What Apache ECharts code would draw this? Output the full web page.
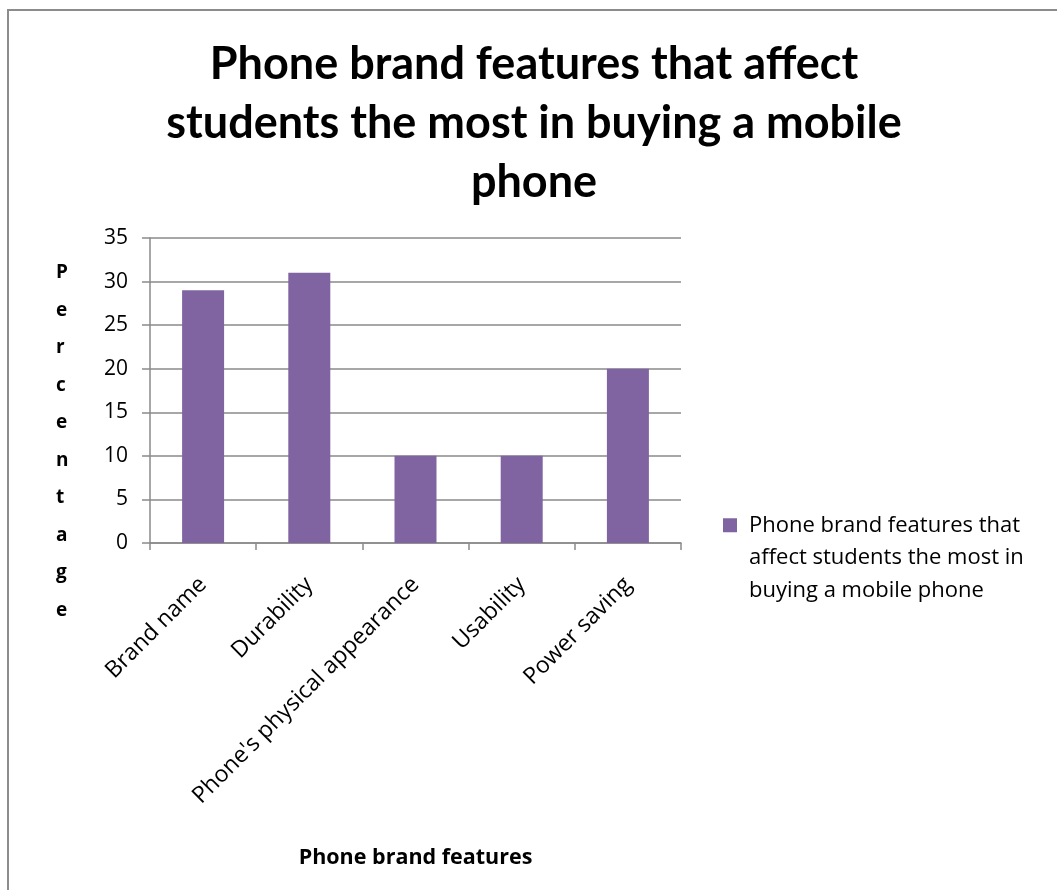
<!DOCTYPE html>
<html>
<head>
<meta charset="utf-8">
<title>Phone brand features</title>
<script src="https://cdn.jsdelivr.net/npm/echarts@6/dist/echarts.min.js"></script>
<style>
  html, body { margin: 0; padding: 0; background: #ffffff; }
  #chart { width: 1057px; height: 890px; }
</style>
</head>
<body>
<div id="chart"></div>
<script>
// Survey results: share of students naming each feature
const categories = ['Brand name', 'Durability', "Phone's physical appearance", 'Usability', 'Power saving'];
const percentages = [29, 31, 10, 10, 20];
const seriesName = 'Phone brand features that affect students the most in buying a mobile phone';
const legendLines = ['Phone brand features that', 'affect students the most in', 'buying a mobile phone'];
const titleText = 'Phone brand features that affect\nstudents the most in buying a mobile\nphone';
const yAxisTitle = 'Percentage';
const xAxisTitle = 'Phone brand features';
const yTicks = { min: 0, max: 35, interval: 5 };

const TITLE_FONT = 'Lato, "Open Sans", sans-serif';
const FONT = '"Open Sans", "Noto Sans", sans-serif';
const GRID_GRAY = '#8a8a8a';
const BAR_COLOR = '#8064A2';

// legend swatch: a 14px square at the top of a taller box, so the
// three-line legend text starts level with the square
const LEGEND_ICON = 'path://M0,0L14,0L14,14L0,14Z M21,79L21,79';

const chart = echarts.init(document.getElementById('chart'));

chart.setOption({
  backgroundColor: '#ffffff',
  animation: false,
  title: {
    text: titleText,
    left: 529,
    textAlign: 'center',
    top: 30,
    textStyle: {
      fontFamily: TITLE_FONT,
      fontSize: 45,
      fontWeight: 'bold',
      color: '#000000',
      lineHeight: 59
    }
  },
  graphic: [
    {
      // outer frame of the chart area
      type: 'rect',
      shape: { x: 8, y: 10, width: 1100, height: 1000 },
      style: { fill: 'none', stroke: '#8c8c8c', lineWidth: 2 },
      silent: true
    },
    {
      // vertical axis title, one letter per line
      type: 'text',
      left: 56,
      top: 254,
      style: {
        text: yAxisTitle.split('').join('\n'),
        fontFamily: FONT,
        fontSize: 19,
        fontWeight: 'bold',
        fill: '#000000',
        lineHeight: 37.5,
        align: 'center'
      }
    }
  ],
  legend: {
    left: 723,
    top: 509,
    padding: 0,
    orient: 'vertical',
    itemWidth: 21,
    itemHeight: 79,
    icon: LEGEND_ICON,
    itemStyle: { color: BAR_COLOR },
    data: [seriesName],
    formatter: function () {
      return legendLines.join('\n');
    },
    textStyle: {
      fontFamily: FONT,
      fontSize: 22,
      color: '#000000',
      lineHeight: 32.5
    }
  },
  grid: {
    left: 150,
    right: 376,
    top: 238,
    bottom: 347,
    containLabel: false
  },
  xAxis: {
    type: 'category',
    data: categories,
    name: xAxisTitle,
    nameLocation: 'middle',
    nameGap: 304,
    nameTextStyle: {
      fontFamily: FONT,
      fontSize: 21.5,
      fontWeight: 'bold',
      color: '#000000'
    },
    axisLine: { show: true, lineStyle: { color: GRID_GRAY, width: 1.5 } },
    axisTick: { show: true, alignWithLabel: false, length: 7, lineStyle: { color: GRID_GRAY, width: 1.5 } },
    axisLabel: {
      interval: 0,
      rotate: 45,
      margin: 38,
      fontFamily: FONT,
      fontSize: 23,
      color: '#000000'
    }
  },
  yAxis: {
    type: 'value',
    min: yTicks.min,
    max: yTicks.max,
    interval: yTicks.interval,
    axisLine: { show: true, lineStyle: { color: GRID_GRAY, width: 1.5 } },
    axisTick: { show: true, length: 8, lineStyle: { color: GRID_GRAY, width: 1.5 } },
    splitLine: { show: true, lineStyle: { color: GRID_GRAY, width: 1.5 } },
    axisLabel: {
      margin: 22,
      fontFamily: FONT,
      fontSize: 21,
      color: '#000000'
    }
  },
  series: [
    {
      name: seriesName,
      type: 'bar',
      data: percentages,
      barWidth: 42,
      itemStyle: { color: BAR_COLOR }
    }
  ]
});
</script>
</body>
</html>
